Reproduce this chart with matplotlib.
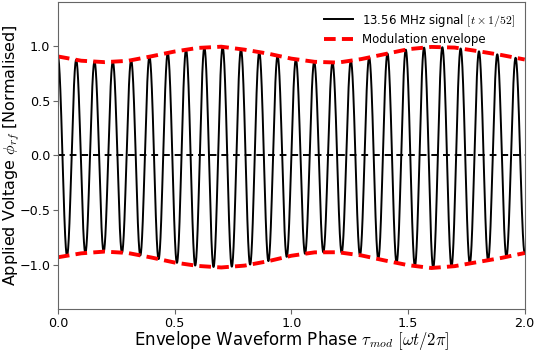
import numpy as np
import matplotlib
matplotlib.use("Agg")
import matplotlib.pyplot as plt

# -------------------------------------------
# Envelope values
# -------------------------------------------
phase_pts = [0.0, 0.1, 0.2, 0.3, 0.4, 0.5, 0.6, 0.7, 0.8, 0.9, 1.0,
             1.1, 1.2, 1.3, 1.4, 1.5, 1.6, 1.7, 1.8, 1.9, 2.0]
upper_env = [0.904, 0.865, 0.852, 0.864, 0.905, 0.949, 0.982, 0.993, 0.966, 0.930, 0.884,
             0.855, 0.848, 0.880, 0.925, 0.970, 0.991, 0.985, 0.952, 0.917, 0.876]
lower_env = [-0.929, -0.893, -0.877, -0.890, -0.931, -0.977, -1.008, -1.022, -1.005, -0.965, -0.915,
             -0.884, -0.883, -0.912, -0.958, -1.001, -1.027, -1.010, -0.972, -0.935, -0.890]

carrier_cycles = 25.5   # oscillations seen across the 0..2 phase window

signal_label = r"13.56 MHz signal $[t \times 1/52]$"
envelope_label = "Modulation envelope"
xlabel = r"Envelope Waveform Phase $\tau_{mod}$ $[\omega t/2\pi]$"
ylabel = r"Applied Voltage $\phi_{rf}$ [Normalised]"

plt.rcParams["mathtext.fontset"] = "cm"

# carrier under the envelope
t = np.linspace(0, 2, 4000)
up = np.interp(t, phase_pts, upper_env)
lo = np.interp(t, phase_pts, lower_env)
c = np.cos(2 * np.pi * carrier_cycles * t / 2.0)
signal = np.where(c >= 0, c * up, -c * lo)

fig = plt.figure(figsize=(5.36, 3.51), dpi=100)
ax = fig.add_axes([0.108, 0.12, 0.871, 0.874])

ax.plot(t, signal, color="black", lw=1.4, label=signal_label)
ax.axhline(0, color="black", lw=1.4, ls="--", dashes=(3.5, 2.5))
ax.plot(phase_pts, upper_env, color="red", lw=2.8, ls="--", dashes=(3, 1.6),
        label=envelope_label)
ax.plot(phase_pts, lower_env, color="red", lw=2.8, ls="--", dashes=(3, 1.6))

ax.set_xlim(0, 2)
ax.set_ylim(-1.4, 1.4)
ax.set_xticks([0.0, 0.5, 1.0, 1.5, 2.0])
ax.set_yticks([-1.0, -0.5, 0.0, 0.5, 1.0])
ax.tick_params(labelsize=9.2, color="0.4", length=3.5, pad=2)
for s in ax.spines.values():
    s.set_color("0.4")

ax.set_xlabel(xlabel, fontsize=12)
ax.set_ylabel(ylabel, fontsize=11.5)
ax.xaxis.set_label_coords(0.5, -0.066)
ax.yaxis.set_label_coords(-0.077, 0.5)

ax.legend(loc="upper right", frameon=False, fontsize=8.5, handlelength=2.4,
          labelspacing=0.35, borderaxespad=0.4)

fig.savefig("out.png", dpi=100)
